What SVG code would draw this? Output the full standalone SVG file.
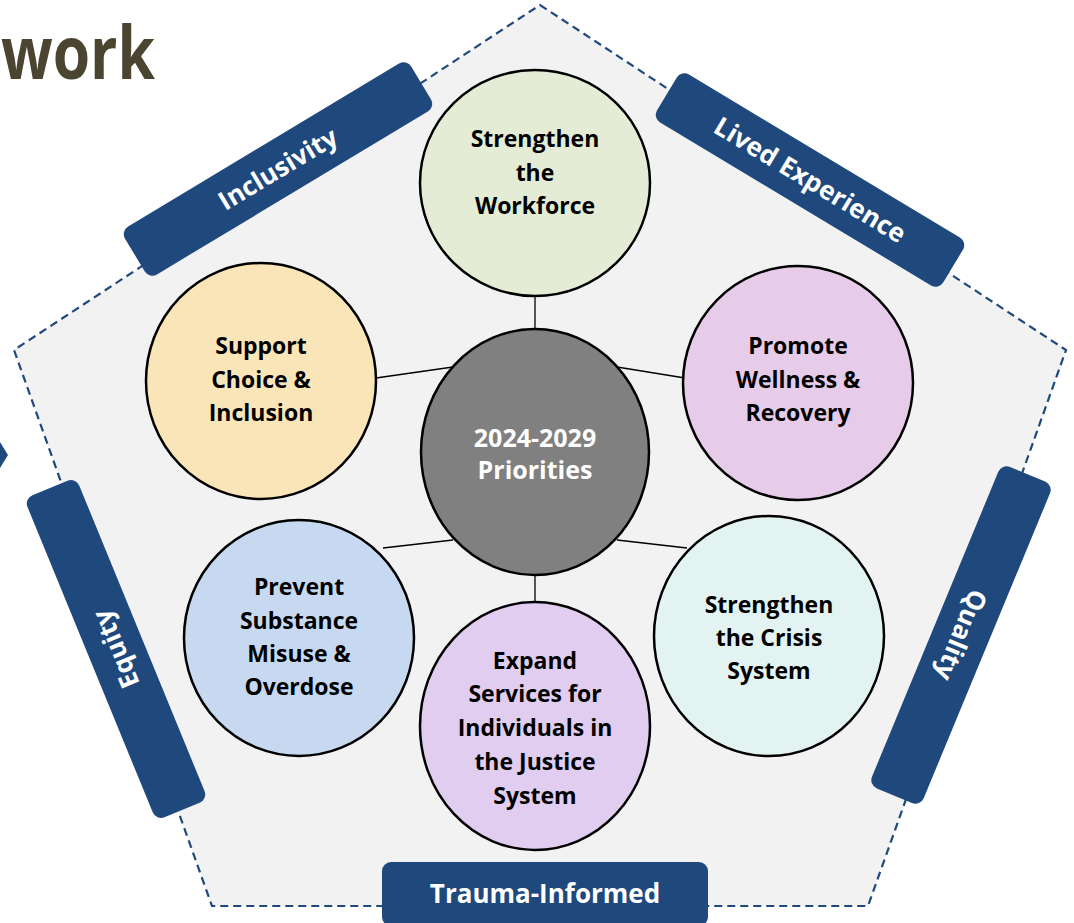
<svg xmlns="http://www.w3.org/2000/svg" width="1074" height="923" viewBox="0 0 1074 923">
<style>
.node ellipse{stroke:#000;stroke-width:2.5}
.lbl{font-family:"Open Sans","Liberation Sans",sans-serif;font-weight:700;font-size:23px;fill:#000;text-anchor:middle}
.wl{fill:#fff;font-size:25px}
.band rect{fill:#1f497d}
.btxt{font-family:"Open Sans","Liberation Sans",sans-serif;font-weight:700;font-size:26px;fill:#fff;text-anchor:middle}
#connectors line{stroke:#000;stroke-width:1.3}
</style>
<rect width="1074" height="923" fill="#fff"/>
<text x="1" y="79" textLength="154" lengthAdjust="spacingAndGlyphs" font-family="'Open Sans','Liberation Sans',sans-serif" font-weight="700" font-size="74" fill="#4a4430">work</text>
<polygon points="0,442 8,455 0,468" fill="#1f497d"/>
<g id="frame">
<polygon points="540,5 1066,350 868,906 212,906 14,350" fill="#f2f2f2" stroke="#1f497d" stroke-width="2.2" stroke-dasharray="8,5"/>
</g>
<g id="connectors">
<line x1="535" y1="296" x2="535" y2="330"/>
<line x1="376" y1="378" x2="453" y2="367"/>
<line x1="617" y1="367" x2="685" y2="378"/>
<line x1="383" y1="548" x2="453" y2="540"/>
<line x1="617" y1="540" x2="687" y2="548"/>
<line x1="535" y1="575" x2="535" y2="603"/>
</g>
<g id="n-workforce" class="node"><ellipse cx="535" cy="183" rx="115" ry="113" fill="#e4ecd6"/>
<text class="lbl" x="535" y="147">Strengthen</text><text class="lbl" x="535" y="181">the</text><text class="lbl" x="535" y="214">Workforce</text></g>
<g id="n-choice" class="node"><ellipse cx="261" cy="381" rx="115" ry="118" fill="#fae5b8"/>
<text class="lbl" x="261" y="354">Support</text><text class="lbl" x="261" y="388">Choice &amp;</text><text class="lbl" x="261" y="421">Inclusion</text></g>
<g id="n-wellness" class="node"><ellipse cx="798" cy="383" rx="115" ry="117" fill="#e6cce8"/>
<text class="lbl" x="798" y="354">Promote</text><text class="lbl" x="798" y="388">Wellness &amp;</text><text class="lbl" x="798" y="421">Recovery</text></g>
<g id="n-substance" class="node"><ellipse cx="299" cy="638" rx="115" ry="118" fill="#c6d9f0"/>
<text class="lbl" x="299" y="595">Prevent</text><text class="lbl" x="299" y="629">Substance</text><text class="lbl" x="299" y="662">Misuse &amp;</text><text class="lbl" x="299" y="695">Overdose</text></g>
<g id="n-crisis" class="node"><ellipse cx="769" cy="636" rx="115" ry="120" fill="#e2f3f1"/>
<text class="lbl" x="769" y="613">Strengthen</text><text class="lbl" x="769" y="646">the Crisis</text><text class="lbl" x="769" y="679">System</text></g>
<g id="n-justice" class="node"><ellipse cx="535" cy="726" rx="115" ry="124" fill="#e0cdf0"/>
<text class="lbl" x="535" y="669">Expand</text><text class="lbl" x="535" y="702">Services for</text><text class="lbl" x="535" y="736">Individuals in</text><text class="lbl" x="535" y="770">the Justice</text><text class="lbl" x="535" y="804">System</text></g>
<g id="n-center" class="node"><ellipse cx="535" cy="452" rx="114" ry="123" fill="#808080"/>
<text class="lbl wl" x="535" y="447">2024-2029</text><text class="lbl wl" x="535" y="479">Priorities</text></g>
<g id="b-inclusivity" class="band" transform="translate(278,169) rotate(-31)"><rect x="-167" y="-28" width="334" height="56" rx="9"/><text class="btxt" y="9">Inclusivity</text></g>
<g id="b-lived" class="band" transform="translate(810,180) rotate(31)"><rect x="-167" y="-28" width="334" height="56" rx="9"/><text class="btxt" y="9">Lived Experience</text></g>
<g id="b-quality" class="band" transform="translate(961,635) rotate(112.5)"><rect x="-174" y="-28" width="348" height="56" rx="9"/><text class="btxt" y="9">Quality</text></g>
<g id="b-equity" class="band" transform="translate(116,649) rotate(-112.3)"><rect x="-174" y="-28" width="348" height="56" rx="9"/><text class="btxt" y="9">Equity</text></g>
<g id="b-trauma" class="band"><rect x="382" y="862" width="326" height="64" rx="9"/><text class="btxt" x="545" y="903">Trauma-Informed</text></g>
</svg>
